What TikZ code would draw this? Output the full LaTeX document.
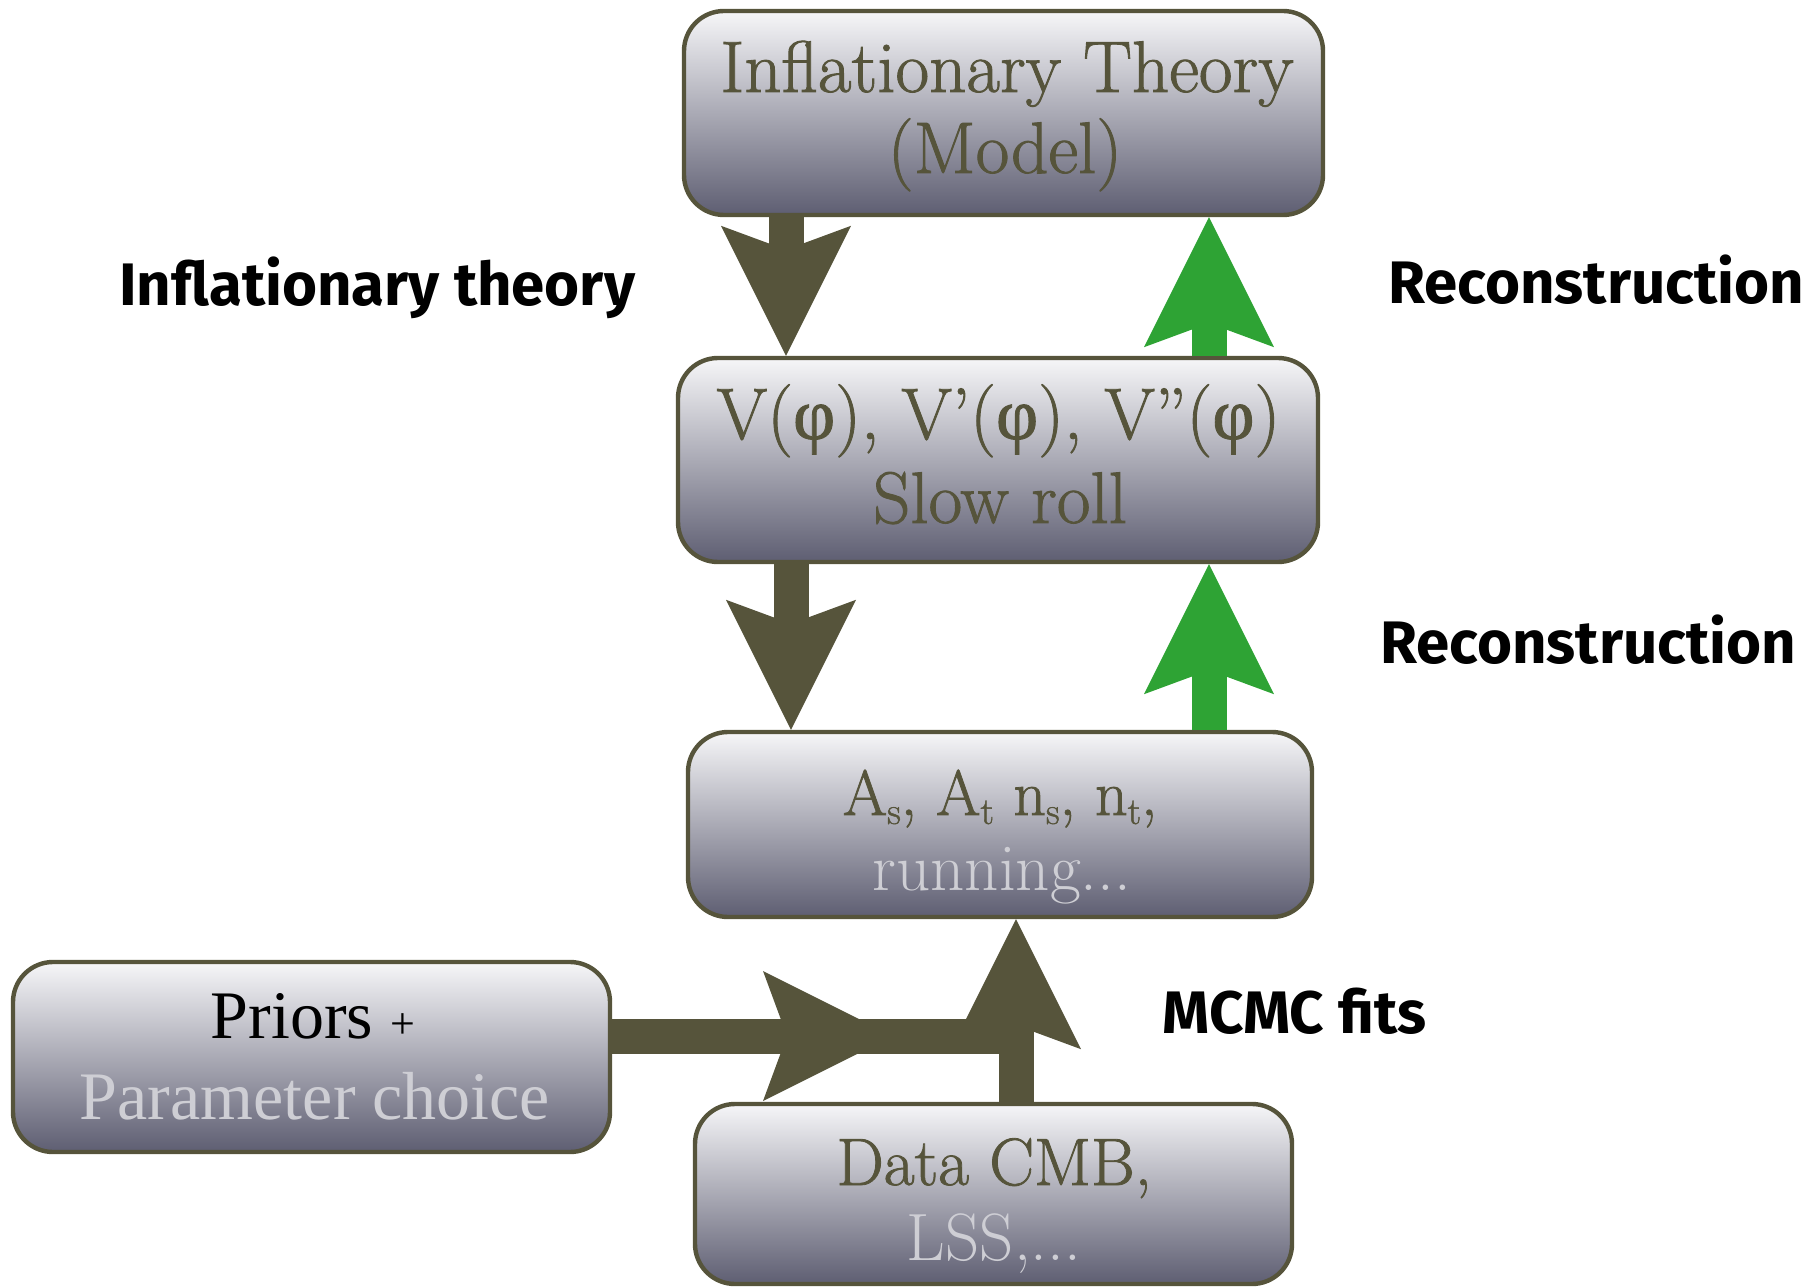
\documentclass[tikz,border=0pt]{standalone}
\usepackage{fontspec}
\setmainfont{Latin Modern Roman}
\setsansfont{Fira Sans}
\newfontfamily\boxf[FakeBold=1.2]{Latin Modern Roman}
\newfontfamily\timesf{Liberation Serif}
\newfontfamily\grkf[FakeBold=1.2]{Liberation Serif}
\usetikzlibrary{arrows.meta}
\definecolor{oliv}{RGB}{86,84,59}
\definecolor{grn}{RGB}{46,163,52}
\definecolor{btop}{RGB}{246,246,248}
\definecolor{bmid}{RGB}{184,184,192}
\definecolor{bbot}{RGB}{94,94,114}
\definecolor{faded}{RGB}{206,206,212}
\newcommand\subx[1]{\raisebox{-0.14em}{\fontsize{19}{19}\selectfont #1}}
\tikzset{
  box/.style={draw=oliv, line width=2.2pt, rounded corners=20pt,
    top color=btop, middle color=bmid, bottom color=bbot, inner sep=0pt},
  btxt/.style={inner sep=0pt, text=oliv, font=\boxf\fontsize{33.5}{40}\selectfont},
  bigtxt/.style={btxt, font=\boxf\fontsize{36.5}{44}\selectfont},
  fadetxt/.style={inner sep=0pt, text=faded, font=\fontsize{33.5}{40}\selectfont},
  lab/.style={inner sep=0pt, text=black, font=\sffamily\bfseries\fontsize{30}{36}\selectfont},
  fat/.style={line width=17.5pt, -{Stealth[length=65pt, width=65pt, inset=12pt, line width=0pt]}},
  shaft/.style={line width=17.5pt},
  darkarr/.style={fat, draw=oliv},
  grnarr/.style={fat, draw=grn},
}
\begin{document}
\begin{tikzpicture}[x=0.5pt,y=-0.5pt]
\useasboundingbox (0,0) rectangle (1813,1288);
% boxes
\node[box, minimum width=319.5pt, minimum height=102pt] (b1) at (1003.5,113) {};
\node[box, minimum width=320pt, minimum height=102pt] (b2) at (998,460) {};
\node[box, minimum width=312pt, minimum height=92.5pt] (b3) at (1000,824.5) {};
\node[box, minimum width=298.5pt, minimum height=95pt] (b4) at (311.5,1057) {};
\node[box, minimum width=298.5pt, minimum height=90pt] (b5) at (993.5,1194) {};
% box texts
\node[bigtxt, anchor=base] (t1a) at (1007,92) {Inflationary Theory};
\node[bigtxt, anchor=base] (t1b) at (1005,173) {(Model)};
\node[bigtxt, anchor=base] (t2a) at (998.5,439) {V({\grkf φ}), V’({\grkf φ}), V”({\grkf φ})};
\node[bigtxt, anchor=base] (t2b) at (1000,523) {Slow roll};
\node[btxt, anchor=base, font=\boxf\fontsize{32}{40}\selectfont] (t3a) at (1000,815) {A\subx{s}, A\subx{t} n\subx{s}, n\subx{t},};
\node[fadetxt, anchor=base] (t3b) at (1002,890) {running...};
\node[btxt, anchor=base, text=black, font=\timesf\fontsize{34}{40}\selectfont] (t4a) at (313,1038) {Priors {\fontsize{22}{22}\selectfont +}};
\node[fadetxt, anchor=base, font=\timesf\fontsize{34}{40}\selectfont] (t4b) at (315,1119) {Parameter choice};
\node[btxt, anchor=base] (t5a) at (994,1185) {Data CMB,};
\node[fadetxt, anchor=base] (t5b) at (994,1260) {LSS,...};
% arrow x positions
\coordinate (xa1) at (786,0);
\coordinate (xg1) at (1209,0);
\coordinate (xa2) at (791,0);
\coordinate (xg2) at (1209,0);
\coordinate (xv) at (1016,0);
\coordinate (yh) at (0,1036);
\coordinate (hm) at (893,1036);
\coordinate (join) at (1016,1036);
% connectors
\draw[darkarr] (b1.south -| xa1) -- (b2.north -| xa1);
\draw[grnarr] (b2.north -| xg1) -- (b1.south -| xg1);
\draw[darkarr] (b2.south -| xa2) -- (b3.north -| xa2);
\draw[grnarr] (b3.north -| xg2) -- (b2.south -| xg2);
\draw[shaft, draw=oliv] ([xshift=-30pt]hm) -- (join);
\draw[darkarr] (b4.east |- yh) -- (hm);
\draw[darkarr] (b5.north -| xv) -- (b3.south -| xv);
% labels
\node[lab, anchor=base west] (l1) at (119,306) {Inflationary theory};
\node[lab, anchor=base west] (l2) at (1388,304) {Reconstruction};
\node[lab, anchor=base west] (l3) at (1380,663) {Reconstruction};
\node[lab, anchor=base west] (l4) at (1162,1033) {MCMC fits};
\end{tikzpicture}
\end{document}
